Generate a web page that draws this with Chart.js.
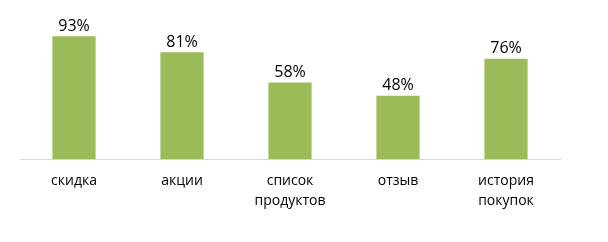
<!DOCTYPE html>
<html>
<head>
<meta charset="utf-8">
<script src="https://cdn.jsdelivr.net/npm/chart.js@4"></script>
<style>
	html, body { margin: 0; padding: 0; background: #fff; }
	#wrap { width: 608px; height: 242px; }
</style>
</head>
<body>
<div id="wrap"><canvas id="chart"></canvas></div>
<script>
const kategori = [
	["скидка"],
	["акции"],
	["список", "продуктов"],
	["отзыв"],
	["история", "покупок"],
];
const nilai = [0.93, 0.81, 0.58, 0.48, 0.76];

const labelAtas = {
	id: "labelAtas",
	afterDatasetsDraw(chart) {
		const ctx = chart.ctx;
		const meta = chart.getDatasetMeta(0);
		ctx.save();
		ctx.font = "16px 'Open Sans'";
		ctx.fillStyle = "#000";
		ctx.textAlign = "center";
		ctx.textBaseline = "bottom";
		meta.data.forEach(function (bar, i) {
			ctx.fillText(Math.round(nilai[i] * 100) + "%", bar.x, bar.y - 2);
		});
		ctx.restore();
	},
};

new Chart(document.getElementById("chart").getContext("2d"), {
	type: "bar",
	data: {
		labels: kategori,
		datasets: [
			{
				data: nilai,
				backgroundColor: "#9bbb59",
				borderWidth: 0,
				categoryPercentage: 1,
				barPercentage: 0.4,
			},
		],
	},
	options: {
		responsive: true,
		maintainAspectRatio: false,
		animation: false,
		layout: { padding: { left: 20, right: 48, top: 27, bottom: 27 } },
		scales: {
			y: {
				display: false,
				min: 0,
				max: 1,
			},
			x: {
				grid: { display: false },
				border: { color: "#d9d9d9", width: 1 },
				ticks: {
					color: "#000",
					font: { family: "'Open Sans'", size: 14, lineHeight: 1.42 },
					padding: 4,
					maxRotation: 0,
				},
			},
		},
		plugins: {
			legend: { display: false },
			tooltip: { enabled: false },
		},
	},
	plugins: [labelAtas],
});
</script>
</body>
</html>
